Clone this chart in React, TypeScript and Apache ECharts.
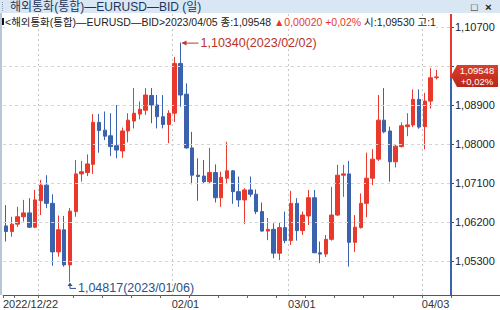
import React, { useEffect, useRef } from 'react';
import * as echarts from 'echarts';

// ---- data ----
const dates = [
  '2022/12/22', '2022/12/23', '2022/12/27', '2022/12/28', '2022/12/29', '2022/12/30',
  '2023/01/01', '2023/01/02', '2023/01/03', '2023/01/04', '2023/01/05', '2023/01/06',
  '2023/01/09', '2023/01/10', '2023/01/11', '2023/01/12', '2023/01/13',
  '2023/01/16', '2023/01/17', '2023/01/18', '2023/01/19', '2023/01/20',
  '2023/01/23', '2023/01/24', '2023/01/25', '2023/01/26', '2023/01/27',
  '2023/01/30', '2023/01/31',
  '2023/02/01', '2023/02/02', '2023/02/03',
  '2023/02/06', '2023/02/07', '2023/02/08', '2023/02/09', '2023/02/10',
  '2023/02/13', '2023/02/14', '2023/02/15', '2023/02/16', '2023/02/17',
  '2023/02/20', '2023/02/21', '2023/02/22', '2023/02/23', '2023/02/24',
  '2023/02/27', '2023/02/28',
  '2023/03/01', '2023/03/02', '2023/03/03',
  '2023/03/06', '2023/03/07', '2023/03/08', '2023/03/09', '2023/03/10',
  '2023/03/13', '2023/03/14', '2023/03/15', '2023/03/16', '2023/03/17',
  '2023/03/20', '2023/03/21', '2023/03/22', '2023/03/23', '2023/03/24',
  '2023/03/27', '2023/03/28', '2023/03/29', '2023/03/30', '2023/03/31',
  '2023/04/03', '2023/04/04', '2023/04/05',
];

const opens = [
  1.0611, 1.0598, 1.0615, 1.0632, 1.0641, 1.0608,
  1.0669, 1.0705, 1.0663, 1.0551, 1.0602, 1.0521,
  1.0644, 1.0731, 1.0734, 1.0753, 1.0850,
  1.0832, 1.0819, 1.0796, 1.0784, 1.0830,
  1.0853, 1.0869, 1.0878, 1.0912, 1.0890,
  1.0863, 1.0845,
  1.0871, 1.0986, 1.0915,
  1.0791, 1.0728, 1.0726, 1.0713, 1.0734,
  1.0676, 1.0721, 1.0738, 1.0690, 1.0671,
  1.0694, 1.0684, 1.0644, 1.0599, 1.0603,
  1.0548, 1.0607,
  1.0577, 1.0663, 1.0600,
  1.0634, 1.0676, 1.0549, 1.0546, 1.0580,
  1.0636, 1.0728, 1.0731, 1.0573, 1.0607,
  1.0663, 1.0721, 1.0765, 1.0855, 1.0830,
  1.0759, 1.0794, 1.0840, 1.0844, 1.0903,
  1.0840, 1.0899, 1.0953,
];

const closes = [
  1.0598, 1.0615, 1.0632, 1.0641, 1.0608, 1.0671,
  1.0705, 1.0663, 1.0551, 1.0602, 1.0521, 1.0645,
  1.0731, 1.0736, 1.0754, 1.0850, 1.0831,
  1.0818, 1.0794, 1.0786, 1.0830, 1.0855,
  1.0871, 1.0880, 1.0913, 1.0890, 1.0863,
  1.0845, 1.0871,
  1.0986, 1.0913, 1.0791,
  1.0728, 1.0725, 1.0713, 1.0734, 1.0676,
  1.0723, 1.0738, 1.0690, 1.0671, 1.0694,
  1.0684, 1.0644, 1.0599, 1.0603, 1.0548,
  1.0607, 1.0577,
  1.0663, 1.0600, 1.0636,
  1.0676, 1.0549, 1.0546, 1.0580, 1.0636,
  1.0728, 1.0731, 1.0573, 1.0608, 1.0663,
  1.0721, 1.0765, 1.0855, 1.0828, 1.0759,
  1.0795, 1.0842, 1.0844, 1.0903, 1.0839,
  1.0899, 1.09528, 1.09548,
];

const lows = [
  1.0575, 1.0586, 1.0609, 1.0621, 1.0606, 1.0606,
  1.0636, 1.0652, 1.0519, 1.0540, 1.0517, 1.04817,
  1.0632, 1.0713, 1.0726, 1.0731, 1.0780,
  1.0809, 1.0772, 1.0767, 1.0768, 1.0804,
  1.0836, 1.0857, 1.0867, 1.0848, 1.0836,
  1.0836, 1.0802,
  1.0851, 1.0886, 1.0789,
  1.0707, 1.0669, 1.0709, 1.0709, 1.0665,
  1.0655, 1.0708, 1.0662, 1.0655, 1.0615,
  1.0678, 1.0638, 1.0598, 1.0578, 1.0536,
  1.0532, 1.0571,
  1.0567, 1.0577, 1.0590,
  1.0613, 1.0548, 1.0525, 1.0539, 1.0577,
  1.0634, 1.0678, 1.0517, 1.0551, 1.0605,
  1.0631, 1.0705, 1.0761, 1.0825, 1.0713,
  1.0746, 1.0792, 1.0818, 1.0839, 1.0835,
  1.0788, 1.0882, 1.0949,
];

const highs = [
  1.0659, 1.0632, 1.0655, 1.0671, 1.0675, 1.0694,
  1.0717, 1.0728, 1.0684, 1.0635, 1.0634, 1.0652,
  1.0763, 1.0761, 1.0776, 1.0869, 1.0869,
  1.0875, 1.0871, 1.0890, 1.0838, 1.0871,
  1.0929, 1.0898, 1.0929, 1.0929, 1.0913,
  1.0913, 1.0878,
  1.1001, 1.1034, 1.0940,
  1.0828, 1.0767, 1.0763, 1.0791, 1.0753,
  1.0736, 1.0805, 1.0740, 1.0725, 1.0698,
  1.0725, 1.0695, 1.0665, 1.0629, 1.0617,
  1.0618, 1.0644,
  1.0692, 1.0675, 1.0644,
  1.0694, 1.0694, 1.0575, 1.0590, 1.0701,
  1.0752, 1.0752, 1.0761, 1.0636, 1.0686,
  1.0780, 1.0788, 1.0913, 1.0929, 1.0840,
  1.0799, 1.0850, 1.0871, 1.0926, 1.0926,
  1.0918, 1.0975, 1.0971,
];

const yTickValues = [1.053, 1.062, 1.071, 1.08, 1.089, 1.098, 1.107];
// 1.098 sits behind the current-price box, so its label is not drawn
const yLabelValues = [1.053, 1.062, 1.071, 1.08, 1.089, 1.107];
const futureSlots = ['f1', 'f2'];

const TITLE = '해외통화(통합)—EURUSD—BID (일)';
const SYMBOL = '<해외통화(통합)—EURUSD—BID>';

// ---- styles ----
const UP = '#e8392c';
const DOWN = '#3b62ac';
const FONT = '"Liberation Sans", "Noto Sans CJK KR", sans-serif';
const GRID = { left: 2, right: 49, top: 14, bottom: 15 };
const Y_MIN = 1.04515;
const Y_MAX = 1.11;

const fmt = (v: number) => v.toFixed(5).replace('.', ',');

export default function App() {
  const ref = useRef<HTMLDivElement>(null);

  useEffect(() => {
    document.body.style.margin = '0';
    const chart = echarts.init(ref.current!, null, { renderer: 'svg' });
    const cats = [...dates, ...futureSlots];
    const candles = dates.map((_, i) => [opens[i], closes[i], lows[i], highs[i]]);

    const monthStart = new Set<number>();
    const weekStart = new Set<number>([0]);
    for (let i = 1; i < dates.length; i++) {
      if (dates[i].slice(0, 7) !== dates[i - 1].slice(0, 7)) monthStart.add(i);
      const a = new Date(dates[i - 1].replace(/\//g, '-') + 'T00:00:00Z');
      const b = new Date(dates[i].replace(/\//g, '-') + 'T00:00:00Z');
      const gap = (b.getTime() - a.getTime()) / 86400000;
      if (gap >= 3 || b.getUTCDay() < a.getUTCDay()) weekStart.add(i);
    }
    const labelIdx = new Set<number>([0]);
    monthStart.forEach((i) => { if (i >= 10) labelIdx.add(i); });

    chart.setOption({
      animation: false,
      backgroundColor: '#ffffff',
      grid: { ...GRID, show: false },
      xAxis: {
        type: 'category',
        data: cats,
        boundaryGap: true,
        axisLine: { show: true, lineStyle: { color: '#555', width: 1 } },
        axisTick: {
          show: true,
          interval: (i: number) => weekStart.has(i),
          length: 3,
          lineStyle: { color: '#666' },
        },
        axisLabel: {
          interval: (i: number) => labelIdx.has(i),
          formatter: (v: string, i: number) => (i === 0 ? v : v.slice(5)),
          align: 'left',
          margin: 3,
          padding: [0, 0, 0, -3],
          fontSize: 11,
          color: '#333',
          fontFamily: FONT,
        },
        splitLine: {
          show: true,
          interval: (i: number) => monthStart.has(i),
          lineStyle: { type: [2, 3], color: '#c6c6c6', width: 1 },
        },
      },
      yAxis: {
        type: 'value',
        position: 'right',
        min: Y_MIN,
        max: Y_MAX,
        z: 20,
        axisLine: { show: false },
        axisTick: { show: true, customValues: yTickValues, length: 3, lineStyle: { color: '#444' } },
        axisLabel: {
          customValues: yLabelValues,
          formatter: (v: number) => fmt(v),
          margin: 4,
          fontSize: 11,
          color: '#222',
          fontFamily: FONT,
        },
        splitLine: { show: true, lineStyle: { type: [3, 3], color: '#d4d4d4', width: 1 } },
      },
      series: [
        {
          type: 'candlestick',
          data: candles,
          barWidth: 4,
          clip: true,
          itemStyle: {
            color: UP,
            color0: DOWN,
            borderColor: UP,
            borderColor0: DOWN,
            borderWidth: 1,
          },
        },
      ],
    });

    const px = (i: number, v: number) => chart.convertToPixel({ gridIndex: 0 }, [i, v]) as number[];
    const last = dates.length - 1;
    const lastClose = closes[last];
    const prevClose = closes[last - 1];
    const diff = lastClose - prevClose;
    const pct = (diff / prevClose) * 100;
    const sign = diff >= 0 ? '+' : '-';
    const arrow = diff >= 0 ? '▲' : '▼';
    const pctText = `${sign}${Math.abs(pct).toFixed(2).replace('.', ',')}%`;

    let hiIdx = 0;
    let loIdx = 0;
    highs.forEach((h, i) => { if (h > highs[hiIdx]) hiIdx = i; });
    lows.forEach((l, i) => { if (l < lows[loIdx]) loIdx = i; });
    const pHi = px(hiIdx, highs[hiIdx]);
    const pLo = px(loIdx, lows[loIdx]);
    const yClose = px(last, lastClose)[1];
    const yTop = px(0, Y_MAX)[1];
    const yBot = px(0, Y_MIN)[1];
    const W = chart.getWidth();
    const axisX = W - GRID.right;

    const graphic: any[] = [
      // title bar
      { type: 'rect', shape: { x: 0, y: 0, width: W, height: 13 }, style: { fill: '#d9e6f3' }, z: 50 },
      { type: 'line', shape: { x1: 2.5, y1: 2, x2: 2.5, y2: 11 }, style: { stroke: '#8a9bb0', lineWidth: 1, lineDash: [1, 1] }, z: 51 },
      { type: 'text', x: 10, y: 7, style: { text: TITLE, font: `12px ${FONT}`, fill: '#1c3660', verticalAlign: 'middle', lineHeight: 12 }, z: 51 },
      { type: 'text', x: 471, y: 7, style: { text: '□', font: `11px ${FONT}`, fill: '#222', verticalAlign: 'middle', lineHeight: 12 }, z: 51 },
      { type: 'text', x: 485, y: 7, style: { text: '×', font: `bold 11.5px ${FONT}`, fill: '#222', verticalAlign: 'middle', lineHeight: 12 }, z: 51 },
      // left border strip
      { type: 'rect', shape: { x: 0, y: 13, width: 2, height: yBot - 13 }, style: { fill: '#b7c7d8' }, z: 40 },
      // info line
      { type: 'rect', shape: { x: 2, y: 18, width: 2, height: 7 }, style: { fill: '#111' }, z: 30 },
      {
        type: 'text', x: 5, y: 22, z: 30,
        style: {
          text: `{k|${SYMBOL}${dates[last]} 종:${fmt(lastClose)} }{r|${arrow}${fmt(Math.abs(diff))} ${pctText}}{k| 시:${fmt(opens[last])} 고:1}`,
          verticalAlign: 'middle',
          backgroundColor: '#fff',
          rich: {
            k: { fill: '#222', fontSize: 10.5, fontFamily: FONT, lineHeight: 12 },
            r: { fill: UP, fontSize: 10.5, fontFamily: FONT, lineHeight: 12 },
          },
        },
      },
      // right axis line: red above current price, blue below
      { type: 'line', shape: { x1: axisX, y1: yTop, x2: axisX, y2: yClose }, style: { stroke: UP, lineWidth: 2 }, z: 25 },
      { type: 'line', shape: { x1: axisX, y1: yClose, x2: axisX, y2: yBot }, style: { stroke: DOWN, lineWidth: 2 }, z: 25 },
      // extend x axis line under the price axis
      { type: 'line', shape: { x1: axisX, y1: yBot + 0.5, x2: W, y2: yBot + 0.5 }, style: { stroke: '#555', lineWidth: 1 }, z: 24 },
      // current price box
      {
        type: 'polygon', z: 30,
        shape: { points: [[axisX, yClose - 1], [axisX + 6, yClose - 12], [W - 2, yClose - 12], [W - 2, yClose + 10], [axisX + 6, yClose + 10]] },
        style: {
          fill: new echarts.graphic.LinearGradient(0, 0, 0, 1, [
            { offset: 0, color: '#d9402c' },
            { offset: 1, color: '#b9261b' },
          ]),
        },
      },
      { type: 'text', x: 477, y: yClose - 6.4, z: 31, style: { text: fmt(lastClose), font: `9.5px ${FONT}`, lineHeight: 10.5, fill: '#fff', align: 'center', verticalAlign: 'middle' } },
      { type: 'text', x: 477, y: yClose + 4.5, z: 31, style: { text: pctText, font: `9.5px ${FONT}`, lineHeight: 10.5, fill: '#fff', align: 'center', verticalAlign: 'middle' } },
      // max annotation
      { type: 'line', shape: { x1: pHi[0] + 2, y1: pHi[1] + 0.5, x2: pHi[0] + 18, y2: pHi[1] + 0.5 }, style: { stroke: '#c0392b', lineWidth: 1 }, z: 30 },
      { type: 'polygon', shape: { points: [[pHi[0] + 1, pHi[1] + 0.5], [pHi[0] + 6, pHi[1] - 2], [pHi[0] + 6, pHi[1] + 3]] }, style: { fill: '#c0392b' }, z: 30 },
      { type: 'text', x: pHi[0] + 20, y: pHi[1] + 0.5, z: 30, style: { text: `${fmt(highs[hiIdx])}(${dates[hiIdx]})`, font: `12.5px ${FONT}`, fill: '#b83227', verticalAlign: 'middle' } },
      // min annotation
      { type: 'polyline', shape: { points: [[pLo[0], pLo[1] + 2], [pLo[0], pLo[1] + 6.5], [pLo[0] + 6, pLo[1] + 6.5]] }, style: { stroke: '#2c4f8f', lineWidth: 1, fill: null }, z: 30 },
      { type: 'polygon', shape: { points: [[pLo[0], pLo[1] + 0.5], [pLo[0] - 2.5, pLo[1] + 4], [pLo[0] + 2.5, pLo[1] + 4]] }, style: { fill: '#2c4f8f' }, z: 30 },
      { type: 'text', x: pLo[0] + 8, y: pLo[1] + 6.5, z: 30, style: { text: `${fmt(lows[loIdx])}(${dates[loIdx]})`, font: `12.5px ${FONT}`, fill: '#2c4f8f', verticalAlign: 'middle' } },
    ];

    chart.setOption({ graphic });

    return () => chart.dispose();
  }, []);

  return (
    <div
      ref={ref}
      style={{ position: 'absolute', left: 0, top: 0, width: 500, height: 310, background: '#fff' }}
    />
  );
}
